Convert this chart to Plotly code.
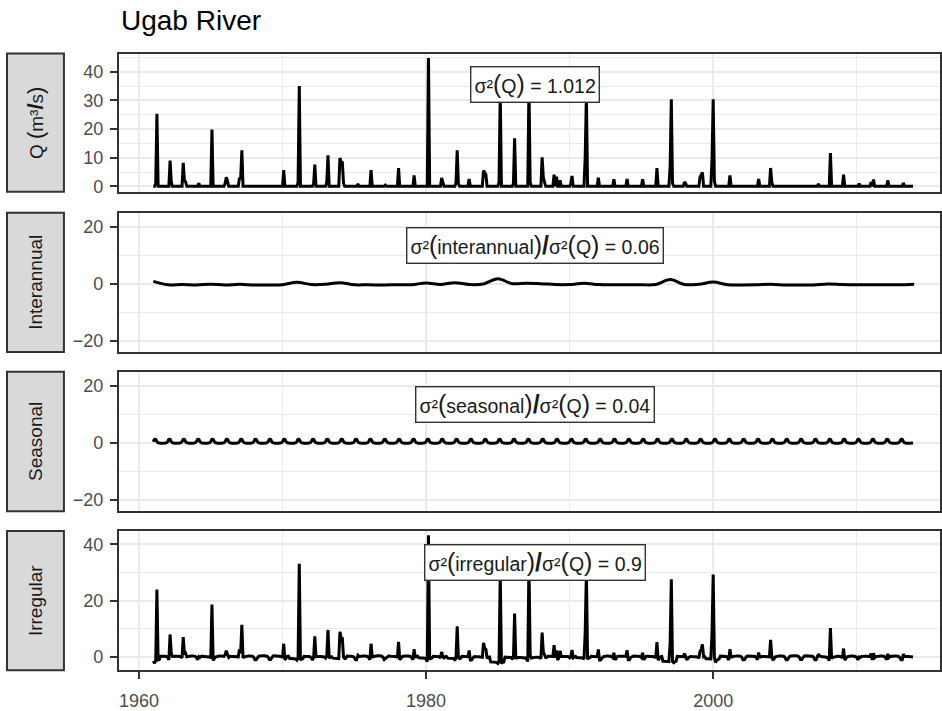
import numpy as np
import plotly.graph_objects as go

# ---------------------------------------------------------------- data --
START_YEAR, END_YEAR = 1961, 2013

# Monthly discharge of the Ugab River (m3/s); months not listed had no flow
peak_year = [1961, 1961, 1962, 1962, 1963, 1963, 1963, 1964, 1965, 1966, 1966, 1966,
             1967, 1967, 1967, 1970, 1971, 1971, 1972, 1972, 1973, 1973, 1974, 1974,
             1974, 1974, 1975, 1976, 1977, 1978, 1979, 1980, 1981, 1981, 1982, 1982,
             1982, 1983, 1984, 1984, 1984, 1985, 1985, 1986, 1986, 1987, 1987, 1988,
             1988, 1988, 1988, 1989, 1989, 1990, 1990, 1991, 1991, 1992, 1993, 1994,
             1995, 1996, 1997, 1997, 1997, 1998, 1998, 1999, 1999, 1999, 1999, 2000,
             2000, 2001, 2003, 2004, 2004, 2007, 2008, 2009, 2010, 2011, 2011, 2012,
             2013]
peak_month = [3, 4, 3, 4, 2, 3, 4, 3, 2, 1, 2, 3,
              1, 2, 3, 2, 2, 3, 3, 4, 2, 3, 1, 2,
              3, 4, 4, 3, 3, 2, 3, 3, 2, 3, 2, 3,
              4, 1, 1, 2, 3, 2, 3, 2, 3, 3, 4, 2,
              3, 4, 12, 2, 5, 2, 3, 2, 3, 1, 2, 1,
              2, 2, 1, 2, 3, 1, 2, 2, 3, 4, 12, 1,
              2, 3, 3, 1, 2, 5, 3, 2, 3, 1, 3, 3,
              4]
peak_flow = [1.0, 25.3, 9.0, 1.5, 8.2, 2.0, 1.6, 1.1, 19.8, 1.0, 3.2, 1.8,
             3.0, 2.5, 12.6, 5.7, 1.5, 35.0, 1.0, 7.6, 1.5, 10.8, 9.9, 8.5,
             8.3, 1.0, 0.8, 5.7, 0.4, 6.4, 3.8, 44.8, 2.9, 1.2, 1.2, 12.6,
             1.0, 2.6, 5.5, 4.5, 4.1, 1.5, 33.0, 1.0, 16.8, 35.0, 1.5, 10.1,
             3.2, 1.5, 4.1, 3.4, 2.1, 1.0, 3.6, 10.0, 32.0, 3.0, 2.5, 2.6,
             2.5, 6.4, 7.0, 30.4, 1.2, 1.5, 1.0, 3.2, 4.0, 4.9, 9.1, 30.4,
             1.8, 3.8, 2.6, 6.4, 1.5, 0.8, 11.6, 4.1, 1.0, 1.5, 2.4, 2.1,
             1.2]

# Interannual component, one value for each 1 January (1961 ... 2014)
interannual_year = list(range(1961, 2015))
interannual_value = [0.9, -0.3, -0.2, -0.35, -0.1, -0.35, -0.15, -0.35, -0.4, -0.3,
                     0.6, -0.2, -0.1, 0.45, -0.3, -0.3, -0.4, -0.25, -0.3, 0.35,
                     -0.2, 0.45, -0.2, 0.0, 1.8, 0.1, 0.25, 0.1, -0.2, -0.2,
                     0.25, -0.2, -0.3, -0.3, -0.3, -0.2, 1.55, -0.2, -0.1, 0.65,
                     -0.25, -0.35, -0.3, -0.15, -0.35, -0.4, -0.35, 0.0, -0.2, -0.3,
                     -0.25, -0.3, -0.3, -0.1]

# Mean seasonal cycle, January ... December
seasonal_cycle = [0.5, 1.3, 1.3, 0.5, 0.1, 0.0, -0.05, -0.05, -0.05, -0.05, 0.0, 0.1]

# Variance of Q and share of it carried by each component
var_q = "1.012"
share_interannual = "0.06"
share_seasonal = "0.04"
share_irregular = "0.9"

panel_names = ["Q (m³/s)", "Interannual", "Seasonal", "Irregular"]

# ----------------------------------------------------- monthly series --
n_months = (END_YEAR - START_YEAR + 1) * 12
t = START_YEAR + np.arange(n_months) / 12.0
month_idx = np.arange(n_months) % 12

q = np.zeros(n_months)
for yr, mo, val in zip(peak_year, peak_month, peak_flow):
    q[(yr - START_YEAR) * 12 + (mo - 1)] = val

seasonal = np.array(seasonal_cycle)[month_idx]
# interannual level of the nearest 1 January for every month
knot = np.floor(t - START_YEAR + 0.5).astype(int)
inter_month = np.array(interannual_value)[knot]
irregular = q - seasonal - inter_month

# -------------------------------------------------------------- layout --
W, H = 942, 711
PX_L, PX_R = 119, 941
panel_px = [(54, 193), (214.25, 354.5), (374.5, 514.75), (534.75, 675)]
y_ranges = [[-1.85, 46.3], [-23.9, 25.0], [-23.9, 25.0], [-4.7, 44.7]]
y_major = [[0, 10, 20, 30, 40], [-20, 0, 20], [-20, 0, 20], [0, 20, 40]]
y_minor = [[5, 15, 25, 35, 45], [-10, 10], [-10, 10], [10, 30]]
label_y_px = [85.5, 247, 407, 566.5]

GRID = "#EBEBEB"
DARK = "#333333"
FONT = "Liberation Sans"
LW = 3.0


def fy(px):
    return 1 - px / H


fig = go.Figure()

line_style = dict(color="black", width=LW)
smooth_style = dict(color="black", width=LW, shape="spline", smoothing=1)
fig.add_trace(go.Scatter(x=t, y=q, mode="lines", line=line_style,
                         xaxis="x", yaxis="y", hoverinfo="skip"))
fig.add_trace(go.Scatter(x=interannual_year, y=interannual_value, mode="lines",
                         line=smooth_style, xaxis="x2", yaxis="y2", hoverinfo="skip"))
fig.add_trace(go.Scatter(x=t, y=seasonal, mode="lines", line=smooth_style,
                         xaxis="x3", yaxis="y3", hoverinfo="skip"))
fig.add_trace(go.Scatter(x=t, y=irregular, mode="lines", line=line_style,
                         xaxis="x4", yaxis="y4", hoverinfo="skip"))

tick_font = dict(family=FONT, size=18, color="#4D4D4D")
layout = dict(
    width=W, height=H, margin=dict(l=0, r=0, t=0, b=0),
    paper_bgcolor="white", plot_bgcolor="white", showlegend=False,
)

for i in range(4):
    sfx = "" if i == 0 else str(i + 1)
    top_px, bot_px = panel_px[i]
    bottom = i == 3
    layout["xaxis" + sfx] = dict(
        domain=[PX_L / W, PX_R / W], anchor="y" + sfx, range=[1958.6, 2015.8],
        tickmode="array", tickvals=[1960, 1980, 2000],
        ticktext=["1960", "1980", "2000"],
        showticklabels=bottom, ticks="outside" if bottom else "",
        ticklen=7, tickwidth=2.2, tickcolor=DARK, tickfont=tick_font,
        ticklabelstandoff=6,
        showgrid=True, gridcolor=GRID, gridwidth=2.2, zeroline=False,
        minor=dict(tickvals=[1970, 1990, 2010], showgrid=True,
                   gridcolor=GRID, gridwidth=1.1, ticks=""),
        showline=True, mirror=True, linecolor=DARK, linewidth=2.2,
        fixedrange=True,
    )
    layout["yaxis" + sfx] = dict(
        domain=[fy(bot_px), fy(top_px)], anchor="x" + sfx, range=y_ranges[i],
        tickmode="array", tickvals=y_major[i], ticks="outside",
        ticklen=7, tickwidth=2.2, tickcolor=DARK, tickfont=tick_font,
        ticklabelstandoff=3,
        showgrid=True, gridcolor=GRID, gridwidth=2.2, zeroline=False,
        minor=dict(tickvals=y_minor[i], showgrid=True,
                   gridcolor=GRID, gridwidth=1.1, ticks=""),
        showline=True, mirror=True, linecolor=DARK, linewidth=2.2,
        fixedrange=True,
    )

fig.update_layout(**layout)


def big(s, size=25, bold=False):
    inner = f"<b>{s}</b>" if bold else s
    return f"<span style='font-size:{size}px'>{inner}</span>"


sig2 = "σ²"
label_texts = [
    f"{sig2}{big('(')}Q{big(')')} = {var_q}",
    f"{sig2}{big('(')}interannual{big(')')}{big('/', bold=True)}{sig2}{big('(')}Q{big(')')} = {share_interannual}",
    f"{sig2}{big('(')}seasonal{big(')')}{big('/', bold=True)}{sig2}{big('(')}Q{big(')')} = {share_seasonal}",
    f"{sig2}{big('(')}irregular{big(')')}{big('/', bold=True)}{sig2}{big('(')}Q{big(')')} = {share_irregular}",
]

strip_texts = [
    f"Q {big('(', 22)}m³{big('/', 22, True)}s{big(')', 22)}",
    panel_names[1], panel_names[2], panel_names[3],
]

shapes = []
annotations = []
for i in range(4):
    top_px, bot_px = panel_px[i]
    # facet strip on the left
    shapes.append(dict(type="rect", xref="paper", yref="paper",
                       x0=7 / W, x1=64 / W, y0=fy(bot_px), y1=fy(top_px),
                       fillcolor="#D9D9D9", line=dict(color=DARK, width=2)))
    annotations.append(dict(xref="paper", yref="paper", x=35.5 / W,
                            y=fy((top_px + bot_px) / 2), text=strip_texts[i],
                            textangle=-90, showarrow=False,
                            xanchor="center", yanchor="middle",
                            font=dict(family=FONT, size=19, color="#1A1A1A")))
    # variance label
    annotations.append(dict(xref="paper", yref="paper", x=536 / W,
                            y=fy(label_y_px[i]), text=label_texts[i],
                            showarrow=False, xanchor="center", yanchor="middle",
                            bgcolor="white", bordercolor=DARK, borderwidth=1.4,
                            borderpad=3,
                            font=dict(family=FONT, size=19.5, color="#1A1A1A")))

annotations.append(dict(xref="paper", yref="paper", x=PX_L / W, y=fy(21),
                        text="Ugab River", showarrow=False,
                        xanchor="left", yanchor="middle",
                        font=dict(family=FONT, size=28, color="black")))

fig.update_layout(shapes=shapes, annotations=annotations)

fig.write_html("out.html")
